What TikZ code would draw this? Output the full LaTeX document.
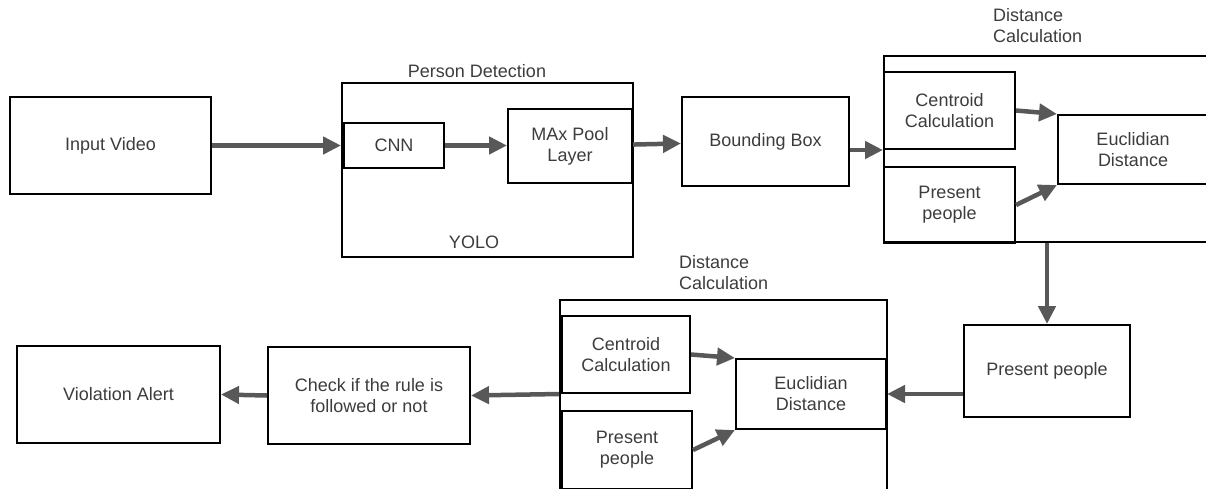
\documentclass[tikz,border=0pt]{standalone}
\usepackage{fontspec}
\setmainfont{Liberation Sans}
\usetikzlibrary{arrows.meta}
\definecolor{flowgray}{RGB}{88,88,88}
\definecolor{txtgray}{RGB}{60,60,60}
\begin{document}
\begin{tikzpicture}[x=1pt,y=1pt,yscale=-1,xscale=1,
  blk/.style={draw=black,line width=2pt,inner sep=0pt,align=center,text=txtgray,
    font=\fontsize{18}{21}\selectfont},
  grp/.style={draw=black,line width=2pt,inner sep=0pt},
  lbl/.style={inner sep=0pt,text=txtgray,font=\fontsize{18}{21}\selectfont},
  flow/.style={draw=flowgray,line width=4.5pt,-{Triangle[length=18pt,width=17pt]}}]
%set diagram area 1206 x 488
\clip (0,0) rectangle (1206,488);

%Group Boxes
\node[grp,minimum width=291pt,minimum height=174pt] (pdet) at (487.5,170) {};
\node[grp,minimum width=400pt,minimum height=186pt] (dist1) at (1084,149) {};
\node[grp,minimum width=327pt,minimum height=200pt] (dist2) at (723.5,400) {};

%Blocks
\node[blk,minimum width=201pt,minimum height=97pt] (input) at (110.5,145.5) {Input Video};
\node[blk,minimum width=100pt,minimum height=45pt] (cnn) at (394,145.5) {CNN};
\node[blk,minimum width=124pt,minimum height=74pt] (maxpool) at (570,146) {MAx Pool\\Layer};
\node[blk,minimum width=167pt,minimum height=89pt] (bbox) at (765.5,141.5) {Bounding Box};
\node[blk,minimum width=131pt,minimum height=77pt] (cent1) at (949.5,110.5) {Centroid\\Calculation};
\node[blk,minimum width=131pt,minimum height=76pt] (pres1) at (949.5,205) {Present\\people};
\node[blk,minimum width=150pt,minimum height=69pt] (eucl1) at (1133,149.5) {Euclidian\\Distance};
\node[blk,minimum width=166pt,minimum height=92pt] (pp) at (1047,371) {Present people};
\node[blk,minimum width=128pt,minimum height=77pt] (cent2) at (626,354.5) {Centroid\\Calculation};
\node[blk,minimum width=130pt,minimum height=78pt] (pres2) at (627,450) {Present\\people};
\node[blk,minimum width=150pt,minimum height=70pt] (eucl2) at (811,394) {Euclidian\\Distance};
\node[blk,minimum width=202pt,minimum height=97pt] (check) at (369,395.5) {Check if the rule is\\ followed or not};
\node[blk,minimum width=203pt,minimum height=97pt] (viol) at (118.5,394.5) {Violation Alert};

% Text Node
\node[lbl] (pdetlbl) at (477,71) {Person Detection};
% Text Node
\node[lbl] (yolo) at (474,242) {YOLO};
% Text Node
\node[lbl,anchor=west,align=left] (dist1lbl) at (993,26) {Distance\\Calculation};
% Text Node
\node[lbl,anchor=west,align=left] (dist2lbl) at (679,273) {Distance\\Calculation};

%Arrows
\draw[flow] (input) -- (pdet.west |- input);
\draw[flow] (cnn) -- (maxpool.west |- cnn);
\draw[flow] (maxpool) -- (bbox);
\draw[flow] (bbox.east |- cent1.south) -- (cent1.south west);
\draw[flow] (cent1.east) -- (eucl1.north west);
\draw[flow] (pres1.east) -- (eucl1.south west);
\draw[flow] (pp.north |- dist1.south) -- (pp.north);
\draw[flow] (eucl2.east -| pp.west) -- (eucl2.east);
\draw[flow] (cent2.east) -- (eucl2.north west);
\draw[flow] (pres2.east) -- (eucl2.south west);
\draw[flow] (dist2.west |- cent2.south) -- (check.east);
\draw[flow] (check.west) -- (viol.east);

\end{tikzpicture}
\end{document}
